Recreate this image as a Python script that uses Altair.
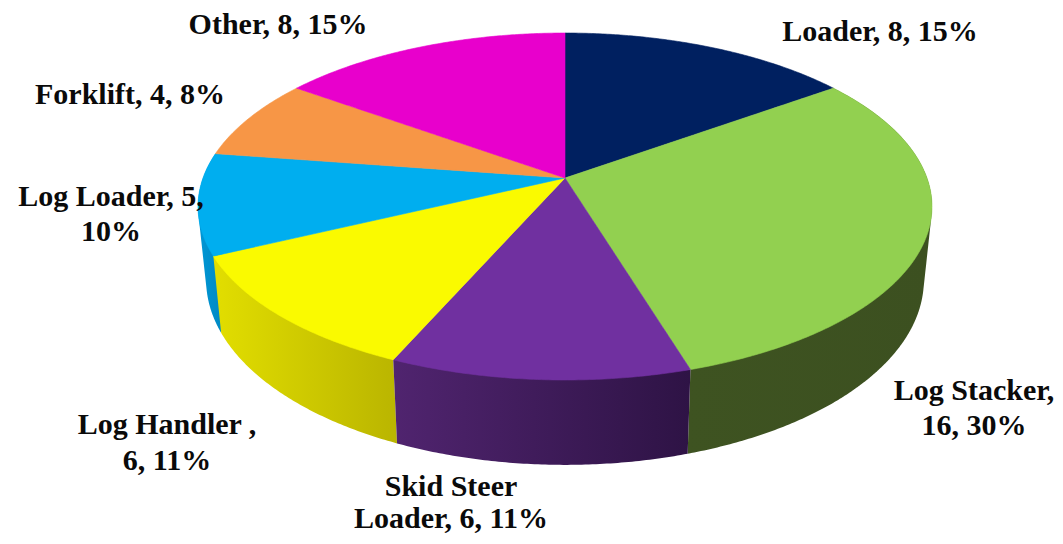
import numpy as np
import pandas as pd
import altair as alt

# --- chart values ---
categories = ["Loader", "Log Stacker", "Skid Steer Loader", "Log Handler", "Log Loader", "Forklift", "Other"]
values = [8, 16, 6, 6, 5, 4, 8]
top_colors = ["#002060", "#92D050", "#7030A0", "#FAFA00", "#00AEEF", "#F79646", "#E800CC"]
label_lines = [
    ["Loader, 8, 15%"],
    ["Log Stacker,", "16, 30%"],
    ["Skid Steer", "Loader, 6, 11%"],
    ["Log Handler ,", "6, 11%"],
    ["Log Loader, 5,", "10%"],
    ["Forklift, 4, 8%"],
    ["Other, 8, 15%"],
]

# --- layout (separate from the data) ---
W, H = 1047, 528
CX, CY_TOP, CY_BOT = 557, 170, 241.5
F_TOP, G_TOP, F_BOT, G_BOT, K = 362, 168.8, 354, 180, 0.1643
label_anchor = [(872, 24), (966, 383), (443, 479), (159, 417), (103, 189), (122, 87), (270, 17)]
label_leading = [35, 35, 32, 36, 35, 35, 35]
FONT = "Liberation Serif"
FONT_SIZE = 30
wall_fill = {
    "Log Loader": ["#0097D6", "#0088C2"],
    "Log Stacker": ["#3E5321", "#3C5020"],
    "Log Handler": ["#E2DE00", "#BAB500"],
    "Skid Steer Loader": ["#50246F", "#2E1345"],
}
wall_order = ["Log Loader", "Log Stacker", "Log Handler", "Skid Steer Loader"]


def project(theta, f, g, cy):
    X, Y = np.sin(theta), np.cos(theta)
    d = 1 + K * Y
    return CX + f * X / d, cy - g * Y / d


def hull(pts):
    pts = sorted(set((round(float(a), 3), round(float(b), 3)) for a, b in pts))
    def half(seq):
        out = []
        for p in seq:
            while len(out) > 1 and (out[-1][0]-out[-2][0])*(p[1]-out[-2][1]) - (out[-1][1]-out[-2][1])*(p[0]-out[-2][0]) <= 0:
                out.pop()
            out.append(p)
        return out
    return half(pts)[:-1] + half(pts[::-1])[:-1]


def spans(poly, name):
    """Turn a convex polygon into x / y / y2 rows for an area mark."""
    p = np.array(poly)
    xs = np.unique(np.round(p[:, 0], 3))
    q = np.roll(p, -1, axis=0)
    rows = []
    for x in xs:
        ys = []
        for (x1, y1), (x2, y2) in zip(p, q):
            lo, hi = min(x1, x2), max(x1, x2)
            if lo - 1e-6 <= x <= hi + 1e-6:
                if hi - lo < 1e-6:
                    ys += [y1, y2]
                else:
                    ys.append(y1 + (x - x1) * (y2 - y1) / (x2 - x1))
        rows.append({"x": float(x), "y": min(ys), "y2": max(ys), "name": name})
    return rows


total = sum(values)
edges = np.cumsum([0] + values) / total * 2 * np.pi

top_rows, wall_rows = [], {}
for i, name in enumerate(categories):
    th = np.linspace(edges[i], edges[i + 1], max(int(values[i] * 14), 40))
    ax, ay = project(th, F_TOP, G_TOP, CY_TOP)
    apex = (float(CX), float(CY_TOP))
    poly = hull([apex] + list(zip(ax, ay)))
    top_rows += spans(poly, name)
    if name in wall_fill:
        bx, by = project(th, F_BOT, G_BOT, CY_BOT)
        wall_rows[name] = spans(hull(list(zip(ax, ay)) + list(zip(bx, by))), name)

x_scale = alt.Scale(domain=[0, W], range=[0, W])
y_scale = alt.Scale(domain=[0, H], range=[0, H])
X = alt.X("x:Q", scale=x_scale, axis=None)
Y = alt.Y("y:Q", scale=y_scale, axis=None)
Y2 = alt.Y2("y2:Q")

layers = []
for name in wall_order:
    c0, c1 = wall_fill[name]
    grad = alt.LinearGradient(
        gradient="linear", x1=0, x2=1, y1=0, y2=0,
        stops=[alt.GradientStop(color=c0, offset=0), alt.GradientStop(color=c1, offset=1)],
    )
    layers.append(
        alt.Chart(pd.DataFrame(wall_rows[name]))
        .mark_area(color=grad, interpolate="linear", clip=False)
        .encode(x=X, y=Y, y2=Y2)
    )

color_scale = alt.Scale(domain=categories, range=top_colors)
layers.append(
    alt.Chart(pd.DataFrame(top_rows))
    .mark_area(interpolate="linear", strokeWidth=0.6)
    .encode(
        x=X, y=Y, y2=Y2,
        color=alt.Color("name:N", scale=color_scale, legend=None),
        stroke=alt.Stroke("name:N", scale=color_scale, legend=None),
    )
)

text_rows = []
for lines, (ax_, ay_), lead in zip(label_lines, label_anchor, label_leading):
    for j, line in enumerate(lines):
        text_rows.append({"x": ax_, "y": ay_ + j * lead, "t": line})
layers.append(
    alt.Chart(pd.DataFrame(text_rows))
    .mark_text(font=FONT, fontSize=FONT_SIZE, fontWeight="bold", color="#0A0A0A",
               align="center", baseline="middle")
    .encode(x=X, y=Y, text="t:N")
)

chart = (
    alt.layer(*layers)
    .properties(width=W, height=H, padding=0, autosize=alt.AutoSizeParams(type="none"), background="white")
    .configure_view(stroke=None)
)

chart.save("out.html", embed_options={"renderer": "svg", "actions": False})
